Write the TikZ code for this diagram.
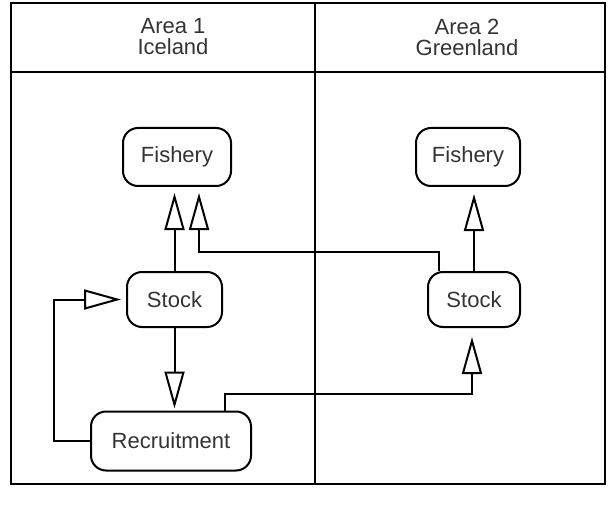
\documentclass[tikz,border=0pt]{standalone}
\usepackage{fontspec}
\setmainfont{Liberation Sans}
\usetikzlibrary{arrows.meta,calc}
\begin{document}
\begin{tikzpicture}[x=1pt,y=-1pt,
  every node/.style={font=\fontsize{22}{21}\selectfont,text=black!80},
  frame/.style={line width=2pt},
  box/.style={draw=black,line width=2pt,rounded corners=15pt,inner sep=0pt},
  arr/.style={line width=2pt,-{Triangle[open,length=37pt,width=20pt]}}]
\useasboundingbox (0,0) rectangle (616,516);
\draw[frame] (11,3) rectangle (605,484);
\draw[frame] (11,72) -- (605,72);
\draw[frame] (315,3) -- (315,484);
\node[align=center] (h1) at (173,37) {Area 1\\Iceland};
\node[align=center] (h2) at (467,37) {Area 2\\Greenland};
\node[box,minimum width=108pt,minimum height=58pt] (f1) at (177,157) {Fishery};
\node[box,minimum width=95pt,minimum height=55pt] (s1) at (174.5,299.5) {Stock};
\node[box,minimum width=160pt,minimum height=59pt] (rec) at (171,441) {Recruitment};
\node[box,minimum width=104pt,minimum height=58pt] (f2) at (468,157) {Fishery};
\node[box,minimum width=92pt,minimum height=55pt] (s2) at (474,299.5) {Stock};
\draw[arr,shorten >=6pt] (s1.north) -- (s1.north |- f1.south);
\draw[arr,shorten >=6pt] ([xshift=-35pt]s2.north) |- ($(f1.south)+(22,65)$) -- ([xshift=22pt]f1.south);
\draw[arr,shorten >=7pt] (s2.north) -- (s2.north |- f2.south);
\draw[arr,shorten >=2pt] (s1.south) -- (s1.south |- rec.north);
\draw[arr,shorten >=5pt] (rec.west) -- ++(-36,0) |- (s1.west);
\draw[arr,shorten >=9pt] ([xshift=54pt]rec.north) |- ($(s2.south)+(-2,65.5)$) -- ([xshift=-2pt]s2.south);
\end{tikzpicture}
\end{document}
